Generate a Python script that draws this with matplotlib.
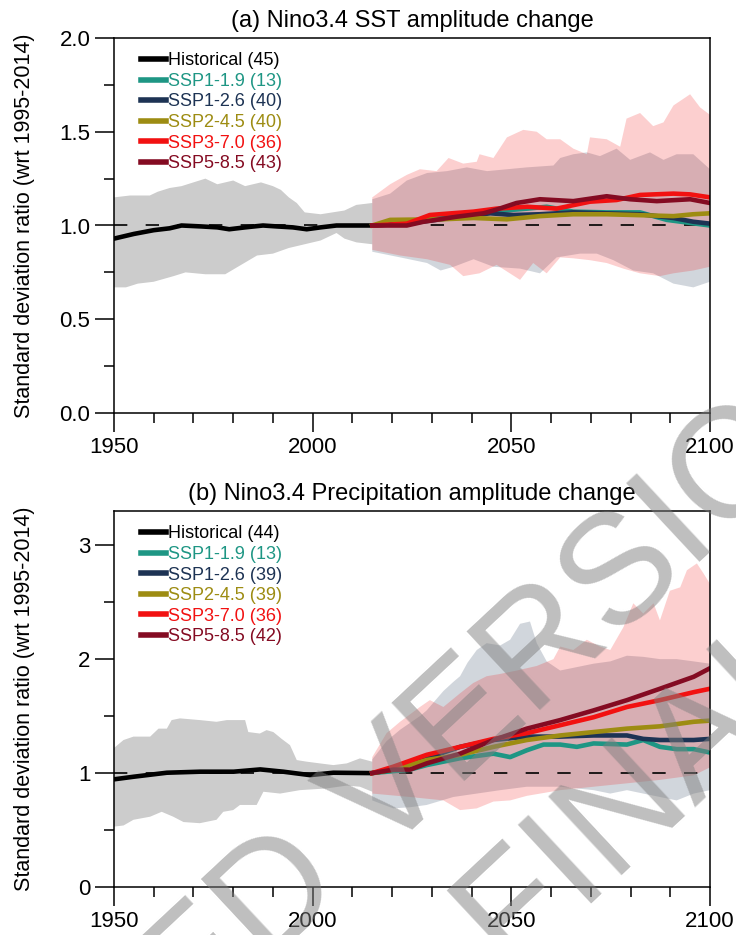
import numpy as np
import matplotlib
matplotlib.use("Agg")
import matplotlib.pyplot as plt
from matplotlib.ticker import MultipleLocator, FormatStrFormatter

plt.rcParams["font.family"] = ["Liberation Sans", "DejaVu Sans"]

# ---- scenario styling -------------------------------------------------------
scenarios = ["SSP1-1.9", "SSP1-2.6", "SSP2-4.5", "SSP3-7.0", "SSP5-8.5"]
colors = {"Historical": "black", "SSP1-1.9": "#1e9684", "SSP1-2.6": "#1d3354",
          "SSP2-4.5": "#9d8c12", "SSP3-7.0": "#f21111", "SSP5-8.5": "#840b22"}
n_models_a = {"Historical": 45, "SSP1-1.9": 13, "SSP1-2.6": 40,
              "SSP2-4.5": 40, "SSP3-7.0": 36, "SSP5-8.5": 43}
n_models_b = {"Historical": 44, "SSP1-1.9": 13, "SSP1-2.6": 39,
              "SSP2-4.5": 39, "SSP3-7.0": 36, "SSP5-8.5": 42}

# ---- (a) SST amplitude ------------------------------------------------------
hist_yr_a = [1950, 1955, 1960, 1964, 1967, 1972, 1976, 1979, 1983, 1987.5,
             1991, 1995, 1998.5, 2002, 2006, 2010, 2014]
hist_mean_a = [0.93, 0.955, 0.975, 0.985, 1.0, 0.995, 0.99, 0.98, 0.99, 1.0,
               0.995, 0.99, 0.98, 0.99, 1.0, 1.0, 1.0]
hist_up_yr_a = [1950, 1954, 1959, 1961, 1964, 1967, 1970, 1973, 1976, 1980,
                1983, 1987, 1990, 1992, 1994, 1996, 1998, 2002, 2005, 2008,
                2011, 2015]
hist_up_a = [1.15, 1.16, 1.16, 1.18, 1.20, 1.21, 1.23, 1.25, 1.22, 1.24,
             1.21, 1.23, 1.21, 1.19, 1.15, 1.12, 1.07, 1.06, 1.07, 1.08,
             1.11, 1.12]
hist_lo_yr_a = [1950, 1953, 1956, 1960, 1965, 1968, 1973, 1978, 1982, 1986,
                1990, 1994, 1998, 2002, 2006, 2008, 2011, 2015]
hist_lo_a = [0.67, 0.67, 0.69, 0.70, 0.73, 0.75, 0.74, 0.74, 0.79, 0.84,
             0.85, 0.88, 0.90, 0.92, 0.96, 0.93, 0.91, 0.90]

ssp126_up_yr_a = [2015, 2019.5, 2023.7, 2028.8, 2033.8, 2038.8, 2043.9, 2048.9,
                  2053.9, 2060.6, 2062.3, 2065.6, 2069, 2072.3, 2076.5, 2079.9,
                  2084.9, 2088.3, 2091.6, 2095.8, 2100]
ssp126_up_a = [1.14, 1.17, 1.24, 1.28, 1.29, 1.31, 1.29, 1.30,
               1.31, 1.32, 1.36, 1.38, 1.39, 1.37, 1.41, 1.35,
               1.39, 1.35, 1.38, 1.38, 1.30]
ssp126_lo_yr_a = [2015, 2022, 2028.8, 2032.2, 2035.5, 2040.5, 2045.5, 2052.2,
                  2057.2, 2061.4, 2067.3, 2071.5, 2075.7, 2080.7, 2085.7,
                  2090.8, 2095.8, 2100]
ssp126_lo_a = [0.86, 0.83, 0.80, 0.76, 0.78, 0.82, 0.78, 0.77,
               0.745, 0.83, 0.85, 0.85, 0.815, 0.76, 0.745,
               0.69, 0.67, 0.70]
ssp370_up_yr_a = [2015, 2019.5, 2023.7, 2027, 2031.2, 2034.2, 2037.9, 2041.3,
                  2042, 2045.5, 2048.9, 2053, 2056.4, 2058.9, 2062.3, 2065.6,
                  2069, 2069.8, 2074, 2077.4, 2079, 2082.4, 2085.7, 2088.3,
                  2090.8, 2095, 2097.5, 2100]
ssp370_up_a = [1.15, 1.22, 1.27, 1.30, 1.29, 1.36, 1.33, 1.34,
               1.38, 1.36, 1.47, 1.51, 1.50, 1.46, 1.46, 1.41,
               1.38, 1.47, 1.46, 1.42, 1.57, 1.60, 1.53, 1.55,
               1.64, 1.70, 1.63, 1.59]
ssp370_lo_yr_a = [2015, 2022, 2028.8, 2034.6, 2037.9, 2042, 2046.3, 2052.2,
                  2055.5, 2058.9, 2062.3, 2065.6, 2069.8, 2074, 2078.2, 2082.4,
                  2087.4, 2090.8, 2095.8, 2100]
ssp370_lo_a = [0.87, 0.84, 0.82, 0.79, 0.73, 0.745, 0.79, 0.71,
               0.80, 0.745, 0.83, 0.825, 0.815, 0.80, 0.77, 0.745,
               0.73, 0.745, 0.76, 0.78]

mean_a = {
    "SSP1-1.9": ([2015, 2023.7, 2032.2, 2044.7, 2054, 2058.9, 2065.6, 2074,
                  2082.4, 2089.1, 2100],
                 [1.0, 1.015, 1.04, 1.074, 1.09, 1.10, 1.074, 1.07,
                  1.07, 1.03, 1.0]),
    "SSP1-2.6": ([2015, 2023.7, 2032.2, 2044.7, 2050.5, 2057.2, 2065.6, 2074,
                  2082.4, 2090.8, 2095.8, 2100],
                 [1.0, 1.01, 1.033, 1.065, 1.056, 1.06, 1.07, 1.065,
                  1.06, 1.04, 1.02, 1.01]),
    "SSP2-4.5": ([2015, 2019.5, 2032.2, 2040.5, 2048.9, 2057.2, 2065.6, 2074,
                  2082.4, 2090.8, 2095.8, 2100],
                 [1.0, 1.03, 1.033, 1.04, 1.033, 1.05, 1.06, 1.06,
                  1.055, 1.05, 1.06, 1.065]),
    "SSP3-7.0": ([2015, 2023.7, 2029.5, 2040.5, 2046.3, 2054, 2061.4, 2069.8,
                  2076.5, 2082.4, 2090.8, 2095, 2100],
                 [1.0, 1.01, 1.056, 1.074, 1.09, 1.10, 1.09, 1.127,
                  1.136, 1.163, 1.17, 1.166, 1.15]),
    "SSP5-8.5": ([2015, 2023.7, 2027.9, 2036.3, 2043, 2046.3, 2051.3, 2057.2,
                  2065.6, 2074, 2079.9, 2086.6, 2095, 2100],
                 [1.0, 1.0, 1.02, 1.047, 1.065, 1.085, 1.12, 1.14,
                  1.13, 1.156, 1.14, 1.13, 1.14, 1.12]),
}

# ---- (b) precipitation amplitude -------------------------------------------
hist_yr_b = [1950, 1955, 1963.3, 1971.7, 1980.1, 1986.8, 1992.6, 1999.3,
             2005.2, 2014]
hist_mean_b = [0.945, 0.968, 1.003, 1.012, 1.012, 1.032, 1.012, 0.982,
               1.003, 1.0]
hist_up_yr_b = [1950, 1952.4, 1954.9, 1959.1, 1961.2, 1963.3, 1964.5, 1966.6,
                1971.6, 1975.8, 1978.4, 1983, 1983.8, 1986.7, 1988.4, 1990.1,
                1992.2, 1994.3, 1996, 1998.5, 2001.8, 2005.2, 2008.6, 2011.9,
                2015]
hist_up_b = [1.22, 1.29, 1.32, 1.32, 1.39, 1.39, 1.465, 1.48,
             1.465, 1.45, 1.465, 1.465, 1.36, 1.347, 1.377, 1.36,
             1.30, 1.245, 1.114, 1.10, 1.085, 1.07, 1.085, 1.129,
             1.10]
hist_lo_yr_b = [1950, 1952.4, 1954.9, 1959.1, 1962, 1964.9, 1967.5, 1971.6,
                1975.8, 1977.5, 1980, 1981.7, 1985.9, 1987.6, 1991.8, 1996.8,
                2003.5, 2008.6, 2011.9, 2015]
hist_lo_b = [0.53, 0.54, 0.59, 0.617, 0.66, 0.617, 0.57, 0.56,
             0.59, 0.66, 0.675, 0.72, 0.72, 0.836, 0.82, 0.85,
             0.865, 0.89, 0.88, 0.836]

ssp126_up_yr_b = [2015, 2018.6, 2022, 2027, 2028.7, 2032.9, 2035.4, 2037.1,
                  2039, 2041.3, 2043.8, 2047.2, 2049.7, 2052.2, 2054.7, 2056.4,
                  2058.9, 2062.3, 2066.5, 2070.7, 2074.9, 2079.1, 2083.2,
                  2087.4, 2091.6, 2095.9, 2100]
ssp126_up_b = [1.12, 1.28, 1.38, 1.50, 1.55, 1.72, 1.80, 1.85,
               1.97, 2.08, 2.14, 2.12, 2.17, 2.31, 2.33, 2.14,
               1.98, 1.90, 1.93, 1.96, 1.98, 2.03, 2.02,
               2.00, 2.00, 1.98, 1.96]
ssp126_lo_yr_b = [2015, 2020.3, 2024.5, 2028.7, 2035.4, 2041.3, 2047.2, 2053.9,
                  2062.3, 2070.7, 2074.9, 2079.1, 2083.2, 2087.4, 2091.6,
                  2095.9, 2100]
ssp126_lo_b = [0.76, 0.69, 0.70, 0.72, 0.79, 0.82, 0.85, 0.88,
               0.88, 0.85, 0.82, 0.85, 0.82, 0.79, 0.76,
               0.82, 0.85]
ssp370_up_yr_b = [2015, 2018.6, 2022, 2027, 2029.5, 2032.9, 2037.1, 2040.4,
                  2043.8, 2047.2, 2051.4, 2056.4, 2060.6, 2062.3, 2065.6,
                  2069, 2072.3, 2074.9, 2078.2, 2080.7, 2083.2, 2085.8,
                  2087.4, 2089.9, 2092.5, 2094.2, 2096.7, 2098.4, 2100]
ssp370_up_b = [1.14, 1.35, 1.45, 1.58, 1.64, 1.58, 1.70, 1.79,
               1.85, 1.87, 1.90, 1.94, 2.00, 2.11, 2.08,
               2.17, 2.11, 2.08, 2.28, 2.49, 2.40, 2.49,
               2.34, 2.60, 2.63, 2.78, 2.84, 2.75, 2.66]
ssp370_lo_yr_b = [2015, 2024.5, 2032.9, 2037.1, 2041.3, 2045.5, 2049.7, 2053.9,
                  2062.3, 2070.7, 2079.1, 2087.4, 2095.9, 2100]
ssp370_lo_b = [0.82, 0.79, 0.76, 0.675, 0.69, 0.75, 0.76, 0.80,
               0.85, 0.88, 0.91, 0.94, 0.98, 1.05]

mean_b = {
    "SSP1-1.9": ([2015, 2024.5, 2028.7, 2037.1, 2045.5, 2049.7, 2053.9, 2058.1,
                  2062.3, 2066.5, 2070.7, 2079.1, 2083.2, 2087.4, 2091.6,
                  2095.9, 2100],
                 [1.0, 1.03, 1.07, 1.13, 1.17, 1.14, 1.20, 1.25,
                  1.25, 1.23, 1.26, 1.25, 1.29, 1.23, 1.21,
                  1.21, 1.18]),
    "SSP1-2.6": ([2015, 2020.3, 2028.7, 2037.1, 2045.5, 2053.9, 2062.3, 2070.7,
                  2079.1, 2083.2, 2087.4, 2095.9, 2100],
                 [1.0, 1.03, 1.13, 1.23, 1.29, 1.32, 1.32, 1.33,
                  1.33, 1.30, 1.29, 1.29, 1.30]),
    "SSP2-4.5": ([2015, 2020.3, 2028.7, 2037.1, 2045.5, 2053.9, 2062.3, 2070.7,
                  2079.1, 2087.4, 2095.9, 2100],
                 [1.0, 1.03, 1.115, 1.16, 1.23, 1.29, 1.33, 1.36,
                  1.39, 1.41, 1.45, 1.46]),
    "SSP3-7.0": ([2015, 2020.3, 2028.7, 2037.1, 2045.5, 2053.9, 2062.3, 2070.7,
                  2079.1, 2087.4, 2095.9, 2100],
                 [1.0, 1.056, 1.16, 1.23, 1.30, 1.35, 1.42, 1.49,
                  1.58, 1.64, 1.71, 1.74]),
    "SSP5-8.5": ([2015, 2020.3, 2024.5, 2028.7, 2037.1, 2045.5, 2053.9, 2062.3,
                  2070.7, 2079.1, 2087.4, 2095.9, 2100],
                 [1.0, 1.03, 1.03, 1.085, 1.17, 1.29, 1.39, 1.465,
                  1.55, 1.64, 1.74, 1.845, 1.92]),
}


def band(ax, yr_up, up, yr_lo, lo, color, alpha=0.2):
    xs = np.concatenate([yr_up, yr_lo[::-1]])
    ys = np.concatenate([up, lo[::-1]])
    ax.fill(xs, ys, color=color, alpha=alpha, lw=0)


def draw_panel(ax, title, hist, bands, means, counts, ymax, major, minor):
    hist_yr, hist_mean, hu_yr, hu, hl_yr, hl = hist
    band(ax, hu_yr, hu, hl_yr, hl, "black")
    for yr_up, up, yr_lo, lo, c in bands:
        band(ax, yr_up, up, yr_lo, lo, c)
    ax.plot([1950, 2100], [1, 1], color="black", lw=1.2, ls=(0, (8, 11)))

    ax.plot(hist_yr, hist_mean, color=colors["Historical"], lw=3.3,
            label="Historical ({})".format(counts["Historical"]))
    for name in scenarios:
        yr, val = means[name]
        ax.plot(yr, val, color=colors[name], lw=3.3,
                label="{} ({})".format(name, counts[name]))

    leg = ax.legend(loc="upper left", bbox_to_anchor=(0.045, 0.962),
                    frameon=False, fontsize=13, handlelength=1.4,
                    handletextpad=0.1, labelspacing=0.2, borderpad=0,
                    borderaxespad=0)
    for txt, line in zip(leg.get_texts(), leg.get_lines()):
        txt.set_color(line.get_color())
        line.set_linewidth(4)

    ax.set_xlim(1950, 2100)
    ax.set_ylim(0, ymax)
    ax.xaxis.set_major_locator(MultipleLocator(50))
    ax.xaxis.set_minor_locator(MultipleLocator(10))
    ax.yaxis.set_major_locator(MultipleLocator(major))
    ax.yaxis.set_minor_locator(MultipleLocator(minor))
    ax.tick_params(which="both", direction="out", width=1.1, labelsize=16,
                   top=False, right=False)
    ax.tick_params(which="major", length=14, pad=3)
    ax.tick_params(which="minor", length=7.5)
    for sp in ax.spines.values():
        sp.set_linewidth(1.1)
    ax.set_title(title, fontsize=17, pad=8)
    ax.set_ylabel("Standard deviation ratio (wrt 1995-2014)", fontsize=15.5)
    ax.yaxis.set_label_coords(-0.133, 0.5)


W, H = 736, 935
fig = plt.figure(figsize=(W / 100, H / 100), dpi=100)
ax_a = fig.add_axes([114 / W, 1 - 413 / H, 596 / W, 375 / H])
ax_b = fig.add_axes([114 / W, 1 - 887 / H, 596 / W, 376 / H])

draw_panel(ax_a, "(a) Nino3.4 SST amplitude change",
           (hist_yr_a, hist_mean_a, hist_up_yr_a, hist_up_a, hist_lo_yr_a, hist_lo_a),
           [(ssp126_up_yr_a, ssp126_up_a, ssp126_lo_yr_a, ssp126_lo_a, colors["SSP1-2.6"]),
            (ssp370_up_yr_a, ssp370_up_a, ssp370_lo_yr_a, ssp370_lo_a, colors["SSP3-7.0"])],
           mean_a, n_models_a, 2.0, 0.5, 0.25)
ax_a.yaxis.set_major_formatter(FormatStrFormatter("%.1f"))

draw_panel(ax_b, "(b) Nino3.4 Precipitation amplitude change",
           (hist_yr_b, hist_mean_b, hist_up_yr_b, hist_up_b, hist_lo_yr_b, hist_lo_b),
           [(ssp126_up_yr_b, ssp126_up_b, ssp126_lo_yr_b, ssp126_lo_b, colors["SSP1-2.6"]),
            (ssp370_up_yr_b, ssp370_up_b, ssp370_lo_yr_b, ssp370_lo_b, colors["SSP3-7.0"])],
           mean_b, n_models_b, 3.3, 1, 0.5)

# page watermark across the lower panel
wm = dict(fontsize=112, color="#7f7f7f", alpha=0.5, rotation=43,
          rotation_mode="anchor", va="baseline", zorder=10)
fig.text(380 / W, 1 - 860 / H, "VERSION", ha="left", **wm)
fig.text(349 / W, 1 - 889 / H, "ACCEPTED", ha="right", **wm)
fig.text(488 / W, 1 - 1000 / H, "SUBJECT TO FINAL EDITS", ha="center", **wm)

fig.savefig("out.png", dpi=100)
